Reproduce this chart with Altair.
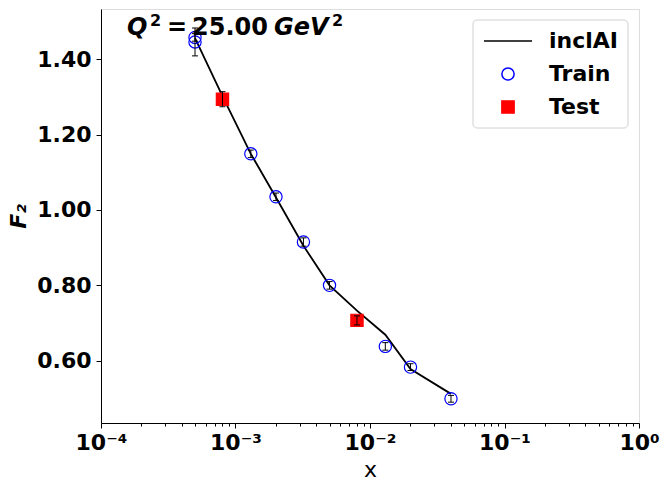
import altair as alt
import pandas as pd

series_names = ["inclAI", "Train", "Test"]
series_colors = ["black", "blue", "red"]
series_fills = ["transparent", "transparent", "red"]
series_shapes = ["stroke", "circle", "square"]
series_sizes = [2304, 150, 150]

line_x = [5.0e-4, 8.0e-4, 1.3e-3, 2.0e-3, 3.2e-3, 5.0e-3, 8.0e-3, 1.3e-2, 2.0e-2, 4.0e-2]
line_f2 = [1.456, 1.302, 1.149, 1.033, 0.905, 0.800, 0.733, 0.669, 0.578, 0.512]

train_x = [5.0e-4, 5.0e-4, 1.3e-3, 2.0e-3, 3.2e-3, 5.0e-3, 1.3e-2, 2.0e-2, 4.0e-2]
train_f2 = [1.458, 1.446, 1.149, 1.035, 0.915, 0.800, 0.638, 0.583, 0.499]
train_err = [0.010, 0.037, 0.010, 0.010, 0.011, 0.010, 0.010, 0.009, 0.009]

test_x = [8.0e-4, 8.0e-3]
test_f2 = [1.294, 0.707]
test_err = [0.020, 0.012]

x_major = [1e-4, 1e-3, 1e-2, 1e-1, 1.0]
x_major_labels = ["10⁻⁴", "10⁻³", "10⁻²", "10⁻¹", "10⁰"]
x_minor = [m * d for d in x_major[:-1] for m in range(2, 10)]
y_ticks = [0.6, 0.8, 1.0, 1.2, 1.4]
x_domain = [1e-4, 1.0]
y_domain = [0.4347, 1.5334]

FONT = "DejaVu Sans"

line_df = pd.DataFrame({"x": line_x, "F2": line_f2, "series": "inclAI"})
pts_df = pd.concat([
    pd.DataFrame({"x": train_x, "F2": train_f2, "err": train_err, "series": "Train"}),
    pd.DataFrame({"x": test_x, "F2": test_f2, "err": test_err, "series": "Test"}),
], ignore_index=True)
pts_df["lo"] = pts_df["F2"] - pts_df["err"]
pts_df["hi"] = pts_df["F2"] + pts_df["err"]

major_test = " || ".join(f"abs(datum.value/{v} - 1) < 1e-6" for v in x_major)
label_expr = ""
for v, lab in zip(x_major, x_major_labels):
    label_expr += f"abs(datum.value/{v} - 1) < 1e-6 ? '{lab}' : "
label_expr += "''"

x_axis = alt.Axis(
    values=x_major + x_minor,
    labelExpr=label_expr,
    tickSize={"condition": {"test": major_test, "value": 5}, "value": 3},
    title="x",
    titleFont=FONT, titleFontSize=22, titleFontWeight="normal", titleColor="black",
    titlePadding=6,
    labelFont=FONT, labelFontSize=22, labelFontWeight="bold", labelColor="black",
    labelPadding=4, labelFlush=False, labelOverlap=False,
    grid=False, domainColor="black", tickColor="black",
)
y_axis = alt.Axis(
    values=y_ticks, format=".2f",
    title="F₂",
    titleFont=FONT, titleFontSize=22, titleFontWeight="bold", titleFontStyle="italic",
    titleColor="black", titlePadding=6,
    labelFont=FONT, labelFontSize=22, labelFontWeight="bold", labelColor="black",
    labelPadding=5, tickSize=5, grid=False, domainColor="black", tickColor="black",
)

X = alt.X("x:Q", scale=alt.Scale(type="log", domain=x_domain), axis=x_axis)
Y = alt.Y("F2:Q", scale=alt.Scale(domain=y_domain, nice=False, zero=False), axis=y_axis)

legend = alt.Legend(
    title=None, orient="none", legendX=372, legendY=-3,
    labelFont=FONT, labelFontSize=22, labelFontWeight="bold", labelColor="black",
    labelOffset=16, symbolStrokeWidth=1.5, symbolOpacity=1,
    padding=10, rowPadding=11, strokeColor="transparent", fillColor="transparent",
)

color = alt.Color("series:N", scale=alt.Scale(domain=series_names, range=series_colors), legend=legend)

ann_df = pd.DataFrame({"a": [0]})

legend_box = alt.Chart(ann_df).mark_rect(
    fill="white", stroke="#d0d0d0", strokeWidth=1, cornerRadius=4
).encode(x=alt.value(372), x2=alt.value(527), y=alt.value(11), y2=alt.value(119))

line = alt.Chart(line_df).mark_line(strokeWidth=1.8).encode(x=X, y=Y, color=color)

points = alt.Chart(pts_df).mark_point(filled=False, opacity=1, strokeWidth=1.2).encode(
    x=X, y=Y, color=color,
    fill=alt.Fill("series:N", scale=alt.Scale(domain=series_names, range=series_fills), legend=legend),
    shape=alt.Shape("series:N", scale=alt.Scale(domain=series_names, range=series_shapes), legend=legend),
    size=alt.Size("series:N", scale=alt.Scale(type="ordinal", domain=series_names, range=series_sizes),
                  legend=legend),
)

err_rule = alt.Chart(pts_df).mark_rule(color="black", strokeWidth=1).encode(
    x=X, y=alt.Y("lo:Q"), y2="hi:Q")
cap_lo = alt.Chart(pts_df).mark_tick(color="black", orient="horizontal", size=6, thickness=1, opacity=1).encode(
    x=X, y=alt.Y("lo:Q"))
cap_hi = alt.Chart(pts_df).mark_tick(color="black", orient="horizontal", size=6, thickness=1, opacity=1).encode(
    x=X, y=alt.Y("hi:Q"))


def ann(text, x, y, size, italic):
    kw = dict(text=text, font=FONT, fontSize=size, fontWeight="bold",
              align="left", baseline="alphabetic", color="black")
    if italic:
        kw["fontStyle"] = "italic"
    return alt.Chart(ann_df).mark_text(**kw).encode(x=alt.value(x), y=alt.value(y))


title_parts = [
    ann("Q", 26, 26, 24, True),
    ann("2", 49, 17, 16, False),
    ann("=", 66, 26, 24, False),
    ann("25.00", 91, 26, 24, False),
    ann("GeV", 173, 26, 24, True),
    ann("2", 231, 17, 16, False),
]

chart = alt.layer(legend_box, line, points, err_rule, cap_lo, cap_hi, *title_parts).properties(
    width=538, height=414,
    autosize=alt.AutoSizeParams(type="none"),
    padding={"left": 101, "top": 9, "right": 24, "bottom": 58},
).configure_view(stroke="black", strokeWidth=1).configure(background="white")

chart.save("out.html", embed_options={"renderer": "svg", "actions": False})
